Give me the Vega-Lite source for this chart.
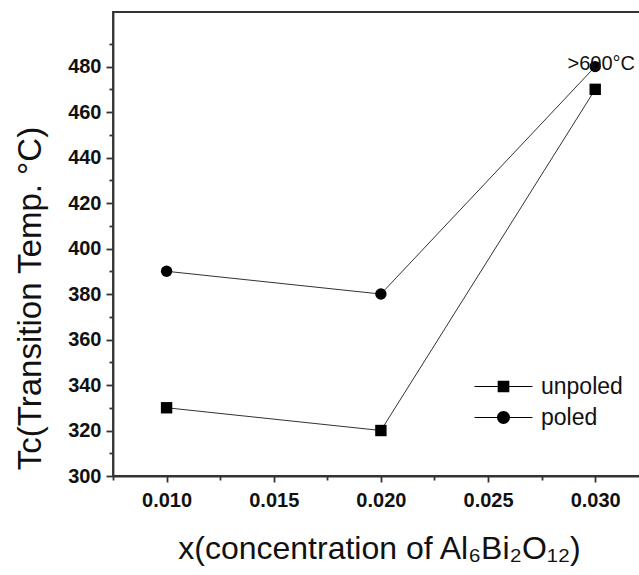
{
  "$schema": "https://vega.github.io/schema/vega-lite/v6.json",
  "width": 527,
  "height": 464,
  "autosize": {"type": "none"},
  "padding": {"left": 113, "top": 12, "right": -1, "bottom": 99},
  "background": "white",
  "config": {
    "view": {"stroke": "#333", "strokeWidth": 1.8},
    "font": "Liberation Sans"
  },
  "data": {
    "values": [
      {"x": 0.010, "tc": 330, "series": "unpoled"},
      {"x": 0.020, "tc": 320, "series": "unpoled"},
      {"x": 0.030, "tc": 470, "series": "unpoled"},
      {"x": 0.010, "tc": 390, "series": "poled"},
      {"x": 0.020, "tc": 380, "series": "poled"},
      {"x": 0.030, "tc": 480, "series": "poled"}
    ]
  },
  "encoding": {
    "x": {
      "field": "x", "type": "quantitative",
      "scale": {"domain": [0.0075, 0.03209], "nice": false, "zero": false},
      "axis": {
        "title": "x(concentration of Al₆Bi₂O₁₂)",
        "titleFont": "Liberation Sans", "titleFontSize": 32, "titleFontWeight": "normal", "titleColor": "#111",
        "titleBaseline": "alphabetic", "titleY": 82, "titleX": 266, "titleAlign": "center",
        "values": [0.0075, 0.010, 0.0125, 0.015, 0.0175, 0.020, 0.0225, 0.025, 0.0275, 0.030],
        "labelExpr": "abs(datum.value*200 - round(datum.value*200)) < 1e-6 ? format(datum.value, '.3f') : ''",
        "labelFont": "Liberation Sans", "labelFontSize": 20, "labelFontWeight": "bold", "labelColor": "#111",
        "labelPadding": 8,
        "tickSize": {"condition": {"test": "abs(datum.value*200 - round(datum.value*200)) < 1e-6", "value": 6}, "value": 4},
        "tickColor": "#333", "tickWidth": 1.8,
        "domainColor": "#333", "domainWidth": 1.8,
        "grid": false
      }
    },
    "y": {
      "field": "tc", "type": "quantitative",
      "scale": {"domain": [300, 504], "nice": false, "zero": false},
      "axis": {
        "title": "Tc(Transition Temp. °C)",
        "titleFont": "Liberation Sans", "titleFontSize": 33, "titleFontWeight": "normal", "titleColor": "#111",
        "titleAngle": -90, "titleBaseline": "alphabetic", "titleAlign": "center",
        "titleX": -73, "titleY": 286,
        "values": [300, 310, 320, 330, 340, 350, 360, 370, 380, 390, 400, 410, 420, 430, 440, 450, 460, 470, 480, 490],
        "labelExpr": "datum.value % 20 === 0 ? datum.label : ''",
        "labelFont": "Liberation Sans", "labelFontSize": 20, "labelFontWeight": "bold", "labelColor": "#111",
        "labelPadding": 5,
        "tickSize": {"condition": {"test": "datum.value % 20 === 0", "value": 7}, "value": 4},
        "tickColor": "#333", "tickWidth": 1.8,
        "domainColor": "#333", "domainWidth": 1.8,
        "grid": false
      }
    }
  },
  "layer": [
    {
      "mark": {"type": "line", "color": "#333", "strokeWidth": 1},
      "encoding": {"detail": {"field": "series"}}
    },
    {
      "mark": {"type": "point", "filled": true, "color": "black", "opacity": 1, "size": 130},
      "encoding": {
        "shape": {
          "field": "series", "type": "nominal",
          "scale": {"domain": ["unpoled", "poled"], "range": ["square", "circle"]},
          "legend": null
        }
      }
    },
    {
      "mark": {"type": "point", "filled": true, "color": "black", "opacity": 1, "size": 0},
      "encoding": {
        "shape": {
          "field": "series", "type": "nominal",
          "scale": {"domain": ["unpoled", "poled"], "range": ["M-4.83,-0.09H4.83V0.09H-4.83ZM-0.97,-0.97H0.97V0.97H-0.97Z", "M-4.83,-0.09H4.83V0.09H-4.83ZM1.08,0A1.08,1.08 0 1,1 -1.08,0A1.08,1.08 0 1,1 1.08,0Z"]},
          "legend": {
            "title": null,
            "orient": "none",
            "legendX": 379,
            "legendY": 363,
            "direction": "vertical",
            "symbolSize": 144,
            "symbolStrokeWidth": 0,
            "symbolFillColor": "black",
            "symbolOpacity": 1,
            "labelFont": "Liberation Sans",
            "labelFontSize": 23,
            "labelColor": "#111",
            "labelOffset": 26,
            "rowPadding": 7
          }
        }
      }
    },
    {
      "data": {"values": [{"x": 0.030, "tc": 480, "note": ">600°C"}]},
      "mark": {"type": "text", "font": "Liberation Sans", "fontSize": 20, "color": "#111", "align": "center", "baseline": "alphabetic", "dx": 6, "dy": 3},
      "encoding": {"text": {"field": "note"}}
    }
  ],
  "resolve": {"scale": {"shape": "independent"}, "legend": {"shape": "independent"}}
}
